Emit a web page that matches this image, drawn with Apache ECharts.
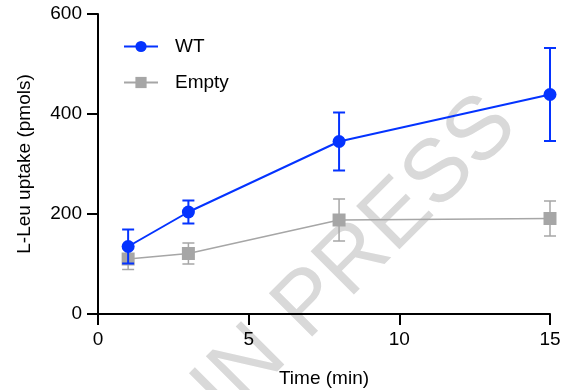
<!DOCTYPE html>
<html lang="en">
<head>
    <meta charset="UTF-8">
    <title>L-Leu uptake</title>
    <script src="https://cdn.jsdelivr.net/npm/echarts@6/dist/echarts.min.js"></script>
    <style>
        html,body{
            height:100%;
            width:100%;
            margin:0;
            padding:0;
            background:#fff;
        }
    </style>
</head>
<body>
    <div id="main" style="width:562px;height:390px"></div>
    <script>
        // time points (min) and uptake values (pmols), mean +/- error
        var timeMin = [1, 3, 8, 15];
        var wtMean = [135, 204, 345, 439];
        var wtErr = [34, 23, 58, 93];
        var emptyMean = [110, 121, 188, 191];
        var emptyErr = [21, 21, 42, 35];
        var xTicks = [0, 5, 10, 15];
        var yTicks = [0, 200, 400, 600];

        var blue = '#0433ff';
        var grey = '#a6a6a6';
        var font = '"Liberation Sans", Arial, sans-serif';

        function pairs(xs, ys) {
            return xs.map(function (x, i) { return [x, ys[i]]; });
        }
        function errData(xs, m, e) {
            return xs.map(function (x, i) { return [x, m[i] - e[i], m[i] + e[i]]; });
        }
        function errBars(color, width) {
            return function (params, api) {
                var lo = api.coord([api.value(0), api.value(1)]);
                var hi = api.coord([api.value(0), api.value(2)]);
                var hw = 6;
                var st = { stroke: color, lineWidth: width };
                return {
                    type: 'group',
                    children: [
                        { type: 'line', shape: { x1: lo[0], y1: lo[1], x2: hi[0], y2: hi[1] }, style: st },
                        { type: 'line', shape: { x1: lo[0] - hw, y1: lo[1], x2: lo[0] + hw, y2: lo[1] }, style: st },
                        { type: 'line', shape: { x1: hi[0] - hw, y1: hi[1], x2: hi[0] + hw, y2: hi[1] }, style: st }
                    ]
                };
            };
        }

        var myChart = echarts.init(document.getElementById('main'));
        var option = {
            animation: false,
            textStyle: { fontFamily: font },
            graphic: [{
                type: 'text',
                z: 0,
                x: 356,
                y: 258,
                rotation: 45 * Math.PI / 180,
                style: {
                    text: 'IN PRESS',
                    fontFamily: font,
                    fontSize: 89,
                    fill: '#d9d9d9',
                    align: 'center',
                    verticalAlign: 'middle'
                }
            }],
            legend: {
                data: ['WT', 'Empty'],
                orient: 'vertical',
                left: 123,
                top: 37,
                padding: 0,
                itemWidth: 34,
                itemHeight: 14,
                itemGap: 17,
                textStyle: { fontSize: 19, color: '#000', fontFamily: font, padding: [0, 0, 0, 12] }
            },
            grid: { left: 98, right: 12, top: 14, bottom: 76, outerBoundsMode: 'none' },
            xAxis: {
                type: 'value',
                min: xTicks[0],
                max: xTicks[xTicks.length - 1],
                interval: 5,
                name: 'Time (min)',
                nameLocation: 'middle',
                nameGap: 55,
                nameTextStyle: { fontSize: 19, color: '#000', fontFamily: font },
                splitLine: { show: false },
                axisLine: { lineStyle: { color: '#000', width: 2 } },
                axisTick: { length: 11, lineStyle: { color: '#000', width: 2 } },
                axisLabel: { fontSize: 19, color: '#000', margin: 16, fontFamily: font }
            },
            yAxis: {
                type: 'value',
                min: yTicks[0],
                max: yTicks[yTicks.length - 1],
                interval: 200,
                name: 'L-Leu uptake (pmols)',
                nameLocation: 'middle',
                nameGap: 64,
                nameTextStyle: { fontSize: 19, color: '#000', fontFamily: font },
                splitLine: { show: false },
                axisLine: { show: true, lineStyle: { color: '#000', width: 2 } },
                axisTick: { show: true, length: 11, lineStyle: { color: '#000', width: 2 } },
                axisLabel: { fontSize: 19, color: '#000', margin: 16, fontFamily: font }
            },
            series: [
                {
                    type: 'custom',
                    z: 3,
                    data: errData(timeMin, emptyMean, emptyErr),
                    renderItem: errBars(grey, 1.5),
                    encode: { x: 0, y: [1, 2] },
                    silent: true
                },
                {
                    name: 'Empty',
                    type: 'line',
                    z: 4,
                    data: pairs(timeMin, emptyMean),
                    symbol: 'rect',
                    symbolSize: 13,
                    itemStyle: { color: grey },
                    lineStyle: { color: grey, width: 1.5 }
                },
                {
                    type: 'custom',
                    z: 5,
                    data: errData(timeMin, wtMean, wtErr),
                    renderItem: errBars(blue, 2),
                    encode: { x: 0, y: [1, 2] },
                    silent: true
                },
                {
                    name: 'WT',
                    type: 'line',
                    z: 6,
                    data: pairs(timeMin, wtMean),
                    symbol: 'circle',
                    symbolSize: 13,
                    itemStyle: { color: blue },
                    lineStyle: { color: blue, width: 2 }
                }
            ]
        };
        myChart.setOption(option);
    </script>
</body>
</html>
